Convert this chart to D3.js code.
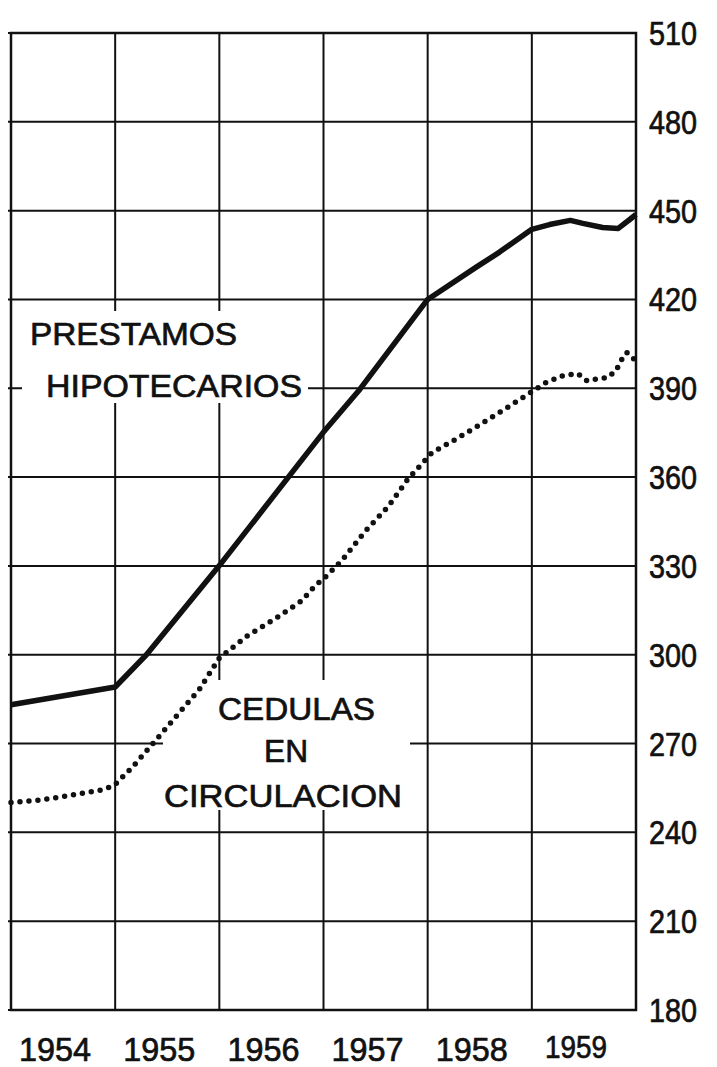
<!DOCTYPE html>
<html>
<head>
<meta charset="utf-8">
<script src="https://d3js.org/d3.v7.min.js"></script>
<style>
  html, body { margin: 0; padding: 0; background: #fff; }
  svg { display: block; }
  text { font-family: "Liberation Sans", Arial, sans-serif; fill: #111; stroke: #111; stroke-width: 0.7px; }
</style>
</head>
<body>
<div id="chart"></div>
<script>
// años del eje horizontal y marcas del eje vertical
const anios = [1954, 1955, 1956, 1957, 1958, 1959];
const yTicks = [180, 210, 240, 270, 300, 330, 360, 390, 420, 450, 480, 510];

// Prestamos hipotecarios (linea continua)
const prestamosFechas = [1954.0, 1955.0, 1955.3, 1956.0, 1957.0, 1957.35, 1958.0, 1958.47, 1958.69, 1959.0,
  1959.17, 1959.37, 1959.49, 1959.68, 1959.83, 1959.94, 1960.0];
const prestamosValores = [283.1, 289.1, 300.0, 330.1, 375.2, 389.7, 420.0, 431.0, 436.0, 443.7,
  445.3, 446.7, 445.7, 444.3, 444.0, 447.0, 448.7];

// Cedulas en circulacion (linea de puntos)
const cedulasFechas = [1954.0, 1954.25, 1954.5, 1954.74, 1954.9, 1955.0, 1955.17, 1955.38, 1955.62, 1955.81,
  1956.0, 1956.27, 1956.55, 1956.79, 1956.92, 1957.03, 1957.18, 1957.4, 1957.62, 1957.81,
  1958.04, 1958.29, 1958.52, 1958.76, 1958.98, 1959.13, 1959.3, 1959.44, 1959.53, 1959.63,
  1959.73, 1959.81, 1959.86, 1959.91, 1959.96, 1960.0];
const cedulasValores = [250.1, 250.8, 252.1, 253.5, 254.5, 256.2, 262.2, 270.7, 280.6, 288.4,
  298.9, 306.4, 312.5, 318.2, 323.3, 326.6, 332.0, 341.7, 350.0, 359.3,
  368.2, 373.2, 378.1, 383.4, 388.4, 391.8, 394.3, 395.0, 392.5, 393.2,
  393.6, 396.1, 399.6, 402.1, 400.7, 398.9];

const width = 717, height = 1067;
const margin = { left: 11, right: 636, top: 33, bottom: 1010 };

const svg = d3.select('#chart').append('svg')
  .attr('width', width)
  .attr('height', height);

svg.append('rect').attr('width', width).attr('height', height).attr('fill', '#fff');

const x = d3.scaleLinear().domain([1954, 1960]).range([margin.left, margin.right]);
const y = d3.scaleLinear().domain([180, 510]).range([margin.bottom, margin.top]);

// cuadricula
const grid = svg.append('g').attr('stroke', '#111').attr('stroke-width', 2);
grid.selectAll('.h')
  .data(yTicks)
  .enter().append('line')
  .attr('x1', margin.left - 3).attr('x2', margin.right)
  .attr('y1', d => y(d)).attr('y2', d => y(d));
grid.selectAll('.v')
  .data(anios.slice(1))
  .enter().append('line')
  .attr('x1', d => x(d)).attr('x2', d => x(d))
  .attr('y1', margin.top).attr('y2', margin.bottom);

// marco
svg.append('rect')
  .attr('x', margin.left).attr('y', margin.top)
  .attr('width', margin.right - margin.left).attr('height', margin.bottom - margin.top)
  .attr('fill', 'none').attr('stroke', '#111').attr('stroke-width', 2.5);

// fondos blancos bajo los rotulos (la cuadricula se interrumpe)
svg.append('rect').attr('x', 22).attr('y', 311).attr('width', 286).attr('height', 92).attr('fill', '#fff');
svg.append('rect').attr('x', 163).attr('y', 680).attr('width', 247).attr('height', 130).attr('fill', '#fff');

// series
const line = d3.line()
  .x(d => x(d[0]))
  .y(d => y(d[1]));

svg.append('path')
  .datum(d3.zip(cedulasFechas, cedulasValores))
  .attr('d', line)
  .attr('fill', 'none')
  .attr('stroke', '#111')
  .attr('stroke-width', 5.5)
  .attr('stroke-linecap', 'round')
  .attr('stroke-dasharray', '0 9');

svg.append('path')
  .datum(d3.zip(prestamosFechas, prestamosValores))
  .attr('d', line)
  .attr('fill', 'none')
  .attr('stroke', '#111')
  .attr('stroke-width', 5.5)
  .attr('stroke-linejoin', 'round');

// eje derecho
svg.append('g').selectAll('text')
  .data(yTicks)
  .enter().append('text')
  .attr('x', 649)
  .attr('y', d => y(d) + 12)
  .attr('font-size', 33)
  .attr('textLength', 48)
  .attr('lengthAdjust', 'spacingAndGlyphs')
  .text(d => d);

// años
svg.append('g').selectAll('text')
  .data(anios)
  .enter().append('text')
  .attr('x', d => x(d + 0.5) - 8)
  .attr('y', d => d === 1959 ? 1058 : 1061)
  .attr('text-anchor', 'middle')
  .attr('font-size', d => d === 1959 ? 31 : 34)
  .attr('textLength', d => d === 1959 ? 62 : 72)
  .attr('lengthAdjust', 'spacingAndGlyphs')
  .text(d => d);

// rotulos de las series
const labels = [
  { t: 'PRESTAMOS', x: 30, y: 345, w: 207 },
  { t: 'HIPOTECARIOS', x: 46, y: 397, w: 256 },
  { t: 'CEDULAS', x: 218, y: 720, w: 157 },
  { t: 'EN', x: 264, y: 762, w: 44 },
  { t: 'CIRCULACION', x: 164, y: 807, w: 238 }
];
svg.append('g').selectAll('text')
  .data(labels)
  .enter().append('text')
  .attr('x', d => d.x)
  .attr('y', d => d.y)
  .attr('font-size', 32)
  .attr('textLength', d => d.w)
  .attr('lengthAdjust', 'spacingAndGlyphs')
  .text(d => d.t);
</script>
</body>
</html>
